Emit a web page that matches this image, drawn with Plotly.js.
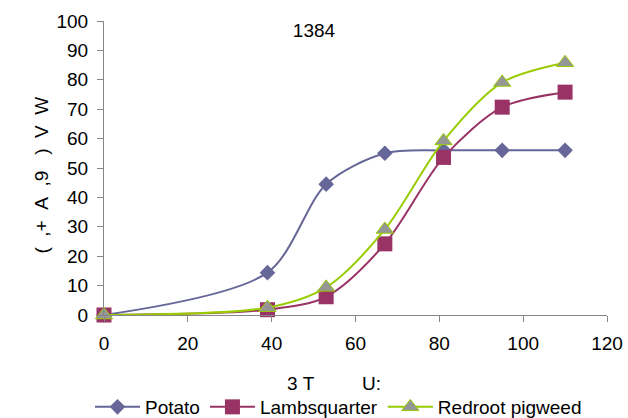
<!DOCTYPE html>
<html>
<head>
<meta charset="utf-8">
<script src="https://cdn.plot.ly/plotly-3.0.1.min.js"></script>
<style>
  html, body { margin: 0; padding: 0; background: #ffffff; }
  #chart { width: 628px; height: 418px; }
</style>
</head>
<body>
<div id="chart"></div>
<script>
// Sampling days (x) shared by all three series
const days = [0, 39, 53, 67, 81, 95, 110];

// Cumulative values per species
const potato = [0, 14.4, 44.5, 55, 56, 56, 56];
const lambsquarter = [0, 1.8, 6.2, 24.2, 53.6, 70.7, 75.8];
const redrootPigweed = [0, 2.5, 9.4, 29.1, 59.2, 79.1, 85.8];

const seriesNames = ["Potato", "Lambsquarter", "Redroot pigweed"];

const xTicks = [0, 20, 40, 60, 80, 100, 120];
const yTicks = [0, 10, 20, 30, 40, 50, 60, 70, 80, 90, 100];

const NB = "\u00a0";
const chartTitle = "1384";
const xTitle = "3" + NB + "T" + NB.repeat(9) + "U:";
const yTitle = "(" + NB.repeat(2) + ",+" + NB.repeat(2) + "A" + NB.repeat(2) + ",9" +
               NB.repeat(3) + ")" + NB.repeat(2) + "V" + NB.repeat(2) + "W";

const FONT = "Liberation Sans, Arial, sans-serif";
const AXIS_GREY = "#868686";

function series(name, y, lineColor, symbol, size, fill, outline) {
  return {
    type: "scatter",
    mode: "lines+markers",
    name: name,
    x: days,
    y: y,
    cliponaxis: false,
    line: { color: lineColor, width: 2, shape: "spline", smoothing: 0.85 },
    marker: {
      symbol: symbol,
      size: size,
      color: fill,
      line: { color: outline, width: outline ? 1 : 0 }
    }
  };
}

const traces = [
  series(seriesNames[0], potato, "#666699", "diamond", 12, "#666699", null),
  series(seriesNames[1], lambsquarter, "#993366", "square", 15, "#993366", null),
  series(seriesNames[2], redrootPigweed, "#99CC00", "triangle-up", 15, "#969696", "#99CC00")
];

const layout = {
  width: 628,
  height: 418,
  paper_bgcolor: "#ffffff",
  plot_bgcolor: "#ffffff",
  font: { family: FONT, size: 19, color: "#000000" },
  margin: { l: 103.5, r: 21, t: 21, b: 103, pad: 0 },
  title: {
    text: chartTitle,
    font: { family: FONT, size: 19, color: "#000000" },
    x: 0.5, xref: "container", xanchor: "center",
    y: 1 - 30 / 418, yref: "container", yanchor: "middle"
  },
  xaxis: {
    range: [0, 120],
    tickvals: xTicks,
    ticktext: xTicks.map(String),
    showgrid: false,
    zeroline: false,
    showline: true,
    linecolor: AXIS_GREY,
    linewidth: 1,
    ticks: "outside",
    ticklen: 6,
    tickcolor: AXIS_GREY,
    ticklabelstandoff: 5,
    tickfont: { family: FONT, size: 19, color: "#000000" },
    fixedrange: true
  },
  yaxis: {
    range: [0, 100],
    tickvals: yTicks,
    ticktext: yTicks.map(String),
    showgrid: false,
    zeroline: false,
    showline: true,
    linecolor: AXIS_GREY,
    linewidth: 1,
    ticks: "outside",
    ticklen: 6,
    tickcolor: AXIS_GREY,
    ticklabelstandoff: 5,
    tickfont: { family: FONT, size: 19, color: "#000000" },
    fixedrange: true
  },
  // Axis titles placed as annotations for exact positioning
  annotations: [
    {
      text: xTitle,
      xref: "paper", yref: "paper",
      x: (334 - 103.5) / 503.5, y: -(383 - 315) / 294,
      xanchor: "center", yanchor: "middle",
      showarrow: false,
      font: { family: FONT, size: 19, color: "#000000" }
    },
    {
      text: yTitle,
      xref: "paper", yref: "paper",
      x: (40 - 103.5) / 503.5, y: (315 - 175) / 294,
      xanchor: "center", yanchor: "middle",
      textangle: -90,
      showarrow: false,
      font: { family: FONT, size: 19, color: "#000000" }
    }
  ],
  showlegend: true,
  legend: {
    orientation: "h",
    x: 90 / 628, xref: "container", xanchor: "left",
    y: 1 - 407 / 418, yref: "container", yanchor: "middle",
    font: { family: FONT, size: 19, color: "#000000" },
    bgcolor: "rgba(0,0,0,0)",
    borderwidth: 0,
    tracegroupgap: 0,
    itemwidth: 45
  }
};

Plotly.newPlot("chart", traces, layout, { displayModeBar: false, staticPlot: true });
</script>
</body>
</html>
